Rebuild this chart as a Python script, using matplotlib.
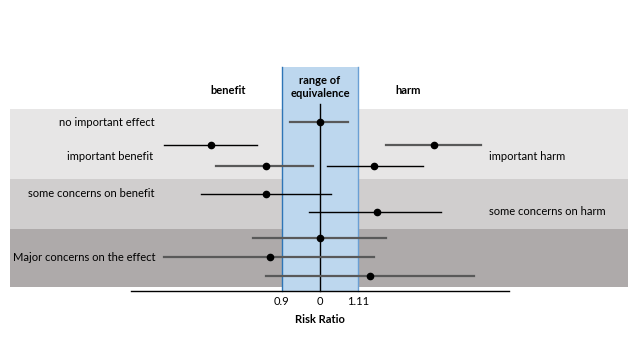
import numpy as np
import matplotlib.pyplot as plt
from matplotlib.transforms import blended_transform_factory

plt.rcParams['font.family'] = ['Lato', 'DejaVu Sans']

# --- DATA (risk ratios) ---
est = [1.00, 0.74, 1.37, 0.86, 1.16, 0.86, 1.17, 1.00, 0.87, 1.15]
lo = [0.92, 0.65, 1.20, 0.75, 1.02, 0.72, 0.97, 0.83, 0.65, 0.86]
hi = [1.08, 0.84, 1.56, 0.98, 1.33, 1.03, 1.40, 1.20, 1.16, 1.53]
shade = ['gray', 'black', 'gray', 'gray', 'black', 'black', 'black', 'gray', 'gray', 'gray']

EQ_LOW, EQ_HIGH = 0.9, 1.11
tick_vals = [0.9, 1.0, 1.11]
tick_labels = ['0.9', '0', '1.11']

# --- LAYOUT ---
row_y = [0, 1.05, 1.05, 2.0, 2.0, 3.25, 4.1, 5.25, 6.15, 7.0]
bands = [(-0.6, 2.6, '#e7e6e6'), (2.6, 4.85, '#d0cece'), (4.85, 7.5, '#aeaaaa')]
line_style = {'black': ('#000000', 1.0), 'gray': ('#595959', 1.6)}

fig = plt.figure(figsize=(6.4, 3.6), dpi=100)
ax = fig.add_axes([0, 0, 1, 1])
ax.set_xscale('log')
ax.set_xlim(np.exp(-320 / 361), np.exp(320 / 361))
ax.set_ylim(10.82, -5.55)
ax.axis('off')

for y0, y1, c in bands:
    ax.axhspan(y0, y1, xmin=10 / 640, xmax=628 / 640, color=c, lw=0, zorder=0)

# equivalence range
ax.fill_betweenx([-2.5, 7.7], EQ_LOW, EQ_HIGH, color='#bdd7ee', lw=0, zorder=1)
ax.plot([EQ_LOW, EQ_LOW], [-2.5, 7.7], color='#2e75b6', lw=1.0, zorder=2)
ax.plot([EQ_HIGH, EQ_HIGH], [-2.5, 7.7], color='#6a9fd4', lw=1.0, zorder=2)
ax.plot([1, 1], [-0.8, 7.7], color='black', lw=1.0, zorder=2)

for e, l, h, y, s in zip(est, lo, hi, row_y, shade):
    c, w = line_style[s]
    ax.plot([l, h], [y, y], color=c, lw=w, zorder=3)
    ax.plot(e, y, 'o', color='black', ms=4.5, zorder=4)

# x axis
xa_y = 7.7
ax.plot([np.exp(-0.5235), np.exp(0.5235)], [xa_y, xa_y], color='black', lw=1.0)
for v, t in zip(tick_vals, tick_labels):
    ax.text(v, 8.15, t, ha='center', va='center', fontsize=8)
ax.text(1.0, 9.0, 'Risk Ratio', ha='center', va='center', fontsize=8, fontweight='bold')

# headings
ax.text(1.0, -1.6, 'range of\nequivalence', ha='center', va='center',
        fontsize=8, fontweight='bold', linespacing=1.3)
ax.text(np.exp((228 - 320) / 361), -1.45, 'benefit', ha='center', va='center',
        fontsize=8, fontweight='bold')
ax.text(np.exp((408 - 320) / 361), -1.45, 'harm', ha='center', va='center',
        fontsize=8, fontweight='bold')

# row labels (x in axes fraction)
tr = blended_transform_factory(ax.transAxes, ax.transData)
ax.text(155 / 640, 0, 'no important effect', transform=tr, ha='right', va='center', fontsize=8)
ax.text(153 / 640, 1.55, 'important benefit', transform=tr, ha='right', va='center', fontsize=8)
ax.text(154 / 640, 3.27, 'some concerns on benefit', transform=tr, ha='right', va='center', fontsize=8)
ax.text(13 / 640, 6.15, 'Major concerns on the effect', transform=tr, ha='left', va='center', fontsize=8)
ax.text(489 / 640, 1.55, 'important harm', transform=tr, ha='left', va='center', fontsize=8)
ax.text(489 / 640, 4.05, 'some concerns on harm', transform=tr, ha='left', va='center', fontsize=8)

fig.savefig('out.png', dpi=100)
